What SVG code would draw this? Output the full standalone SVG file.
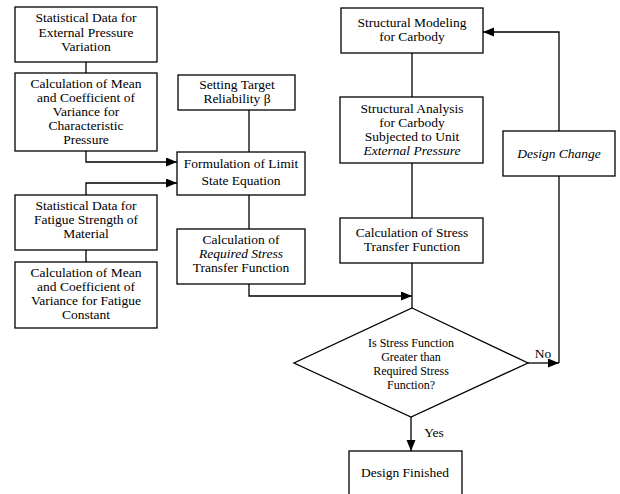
<svg xmlns="http://www.w3.org/2000/svg" width="620" height="494" viewBox="0 0 620 494">
<defs>
<marker id="arr" markerUnits="userSpaceOnUse" markerWidth="12" markerHeight="10" refX="11" refY="4.5" orient="auto">
<path d="M0,0 L11,4.5 L0,9 z" fill="#000"/>
</marker>
<style>
rect.b{fill:#fff;stroke:#000;stroke-width:1.3}
text{font-family:"Liberation Serif","DejaVu Serif",serif;font-size:13.5px;fill:#000;text-anchor:middle}
.it{font-style:italic}
.sm{font-size:12px}
.c{fill:none;stroke:#000;stroke-width:1.3}
</style>
</defs>
<rect width="620" height="494" fill="#fff"/>
<g id="connectors">
<path class="c" d="M86 62 V73"/>
<path class="c" d="M86 151 V162 H177" marker-end="url(#arr)"/>
<path class="c" d="M86 195 V183 H177" marker-end="url(#arr)"/>
<path class="c" d="M86 250 V262"/>
<path class="c" d="M249 110 V152"/>
<path class="c" d="M249 195 V229"/>
<path class="c" d="M249 284 V296 H412" marker-end="url(#arr)"/>
<path class="c" d="M412 53 V97"/>
<path class="c" d="M412 163 V218"/>
<path class="c" d="M412 263 V308"/>
<path class="c" d="M411 417 V451" marker-end="url(#arr)"/>
<path class="c" d="M528 363 H559" marker-end="url(#arr)"/>
<path class="c" d="M559 363 V176"/>
<path class="c" d="M559 131 V32 H483" marker-end="url(#arr)"/>
</g>
<g id="n1">
<rect class="b" x="15" y="7" width="142" height="55"/>
<text x="86" y="22">Statistical Data for</text>
<text x="86" y="37">External Pressure</text>
<text x="86" y="51">Variation</text>
</g>
<g id="n2">
<rect class="b" x="15" y="73" width="142" height="78"/>
<text x="86" y="88">Calculation of Mean</text>
<text x="86" y="102">and Coefficient of</text>
<text x="86" y="116">Variance for</text>
<text x="86" y="130">Characteristic</text>
<text x="86" y="144">Pressure</text>
</g>
<g id="n3">
<rect class="b" x="15" y="195" width="142" height="55"/>
<text x="86" y="210">Statistical Data for</text>
<text x="86" y="224">Fatigue Strength of</text>
<text x="86" y="238">Material</text>
</g>
<g id="n4">
<rect class="b" x="15" y="262" width="142" height="66"/>
<text x="86" y="277">Calculation of Mean</text>
<text x="86" y="291">and Coefficient of</text>
<text x="86" y="305">Variance for Fatigue</text>
<text x="86" y="319">Constant</text>
</g>
<g id="n5">
<rect class="b" x="178" y="75" width="117" height="35"/>
<text x="237" y="89">Setting Target</text>
<text x="237" y="103">Reliability β</text>
</g>
<g id="n6">
<rect class="b" x="177" y="152" width="128" height="43"/>
<text x="241" y="168">Formulation of Limit</text>
<text x="241" y="185">State Equation</text>
</g>
<g id="n7">
<rect class="b" x="177" y="229" width="128" height="55"/>
<text x="241" y="244">Calculation of</text>
<text x="241" y="258" class="it">Required Stress</text>
<text x="241" y="272">Transfer Function</text>
</g>
<g id="n8">
<rect class="b" x="341" y="8" width="142" height="45"/>
<text x="412" y="27">Structural Modeling</text>
<text x="412" y="41">for Carbody</text>
</g>
<g id="n9">
<rect class="b" x="340" y="97" width="143" height="66"/>
<text x="412" y="113">Structural Analysis</text>
<text x="412" y="127">for Carbody</text>
<text x="412" y="141">Subjected to Unit</text>
<text x="412" y="155" class="it">External Pressure</text>
</g>
<g id="n10">
<rect class="b" x="340" y="218" width="143" height="45"/>
<text x="412" y="237">Calculation of Stress</text>
<text x="412" y="251">Transfer Function</text>
</g>
<g id="n11">
<rect class="b" x="503" y="131" width="112" height="45"/>
<text x="559" y="158" class="it">Design Change</text>
</g>
<g id="n12">
<path d="M412 308 L528 363 L411 417 L294 363 Z" fill="#fff" stroke="#000" stroke-width="1.3"/>
<text x="411" y="347" class="sm">Is Stress Function</text>
<text x="411" y="361" class="sm">Greater than</text>
<text x="411" y="375" class="sm">Required Stress</text>
<text x="411" y="389" class="sm">Function?</text>
</g>
<g id="n13">
<rect class="b" x="349" y="451" width="113" height="60"/>
<text x="405" y="477">Design Finished</text>
</g>
<text x="434" y="437">Yes</text>
<text x="543" y="358">No</text>
</svg>
